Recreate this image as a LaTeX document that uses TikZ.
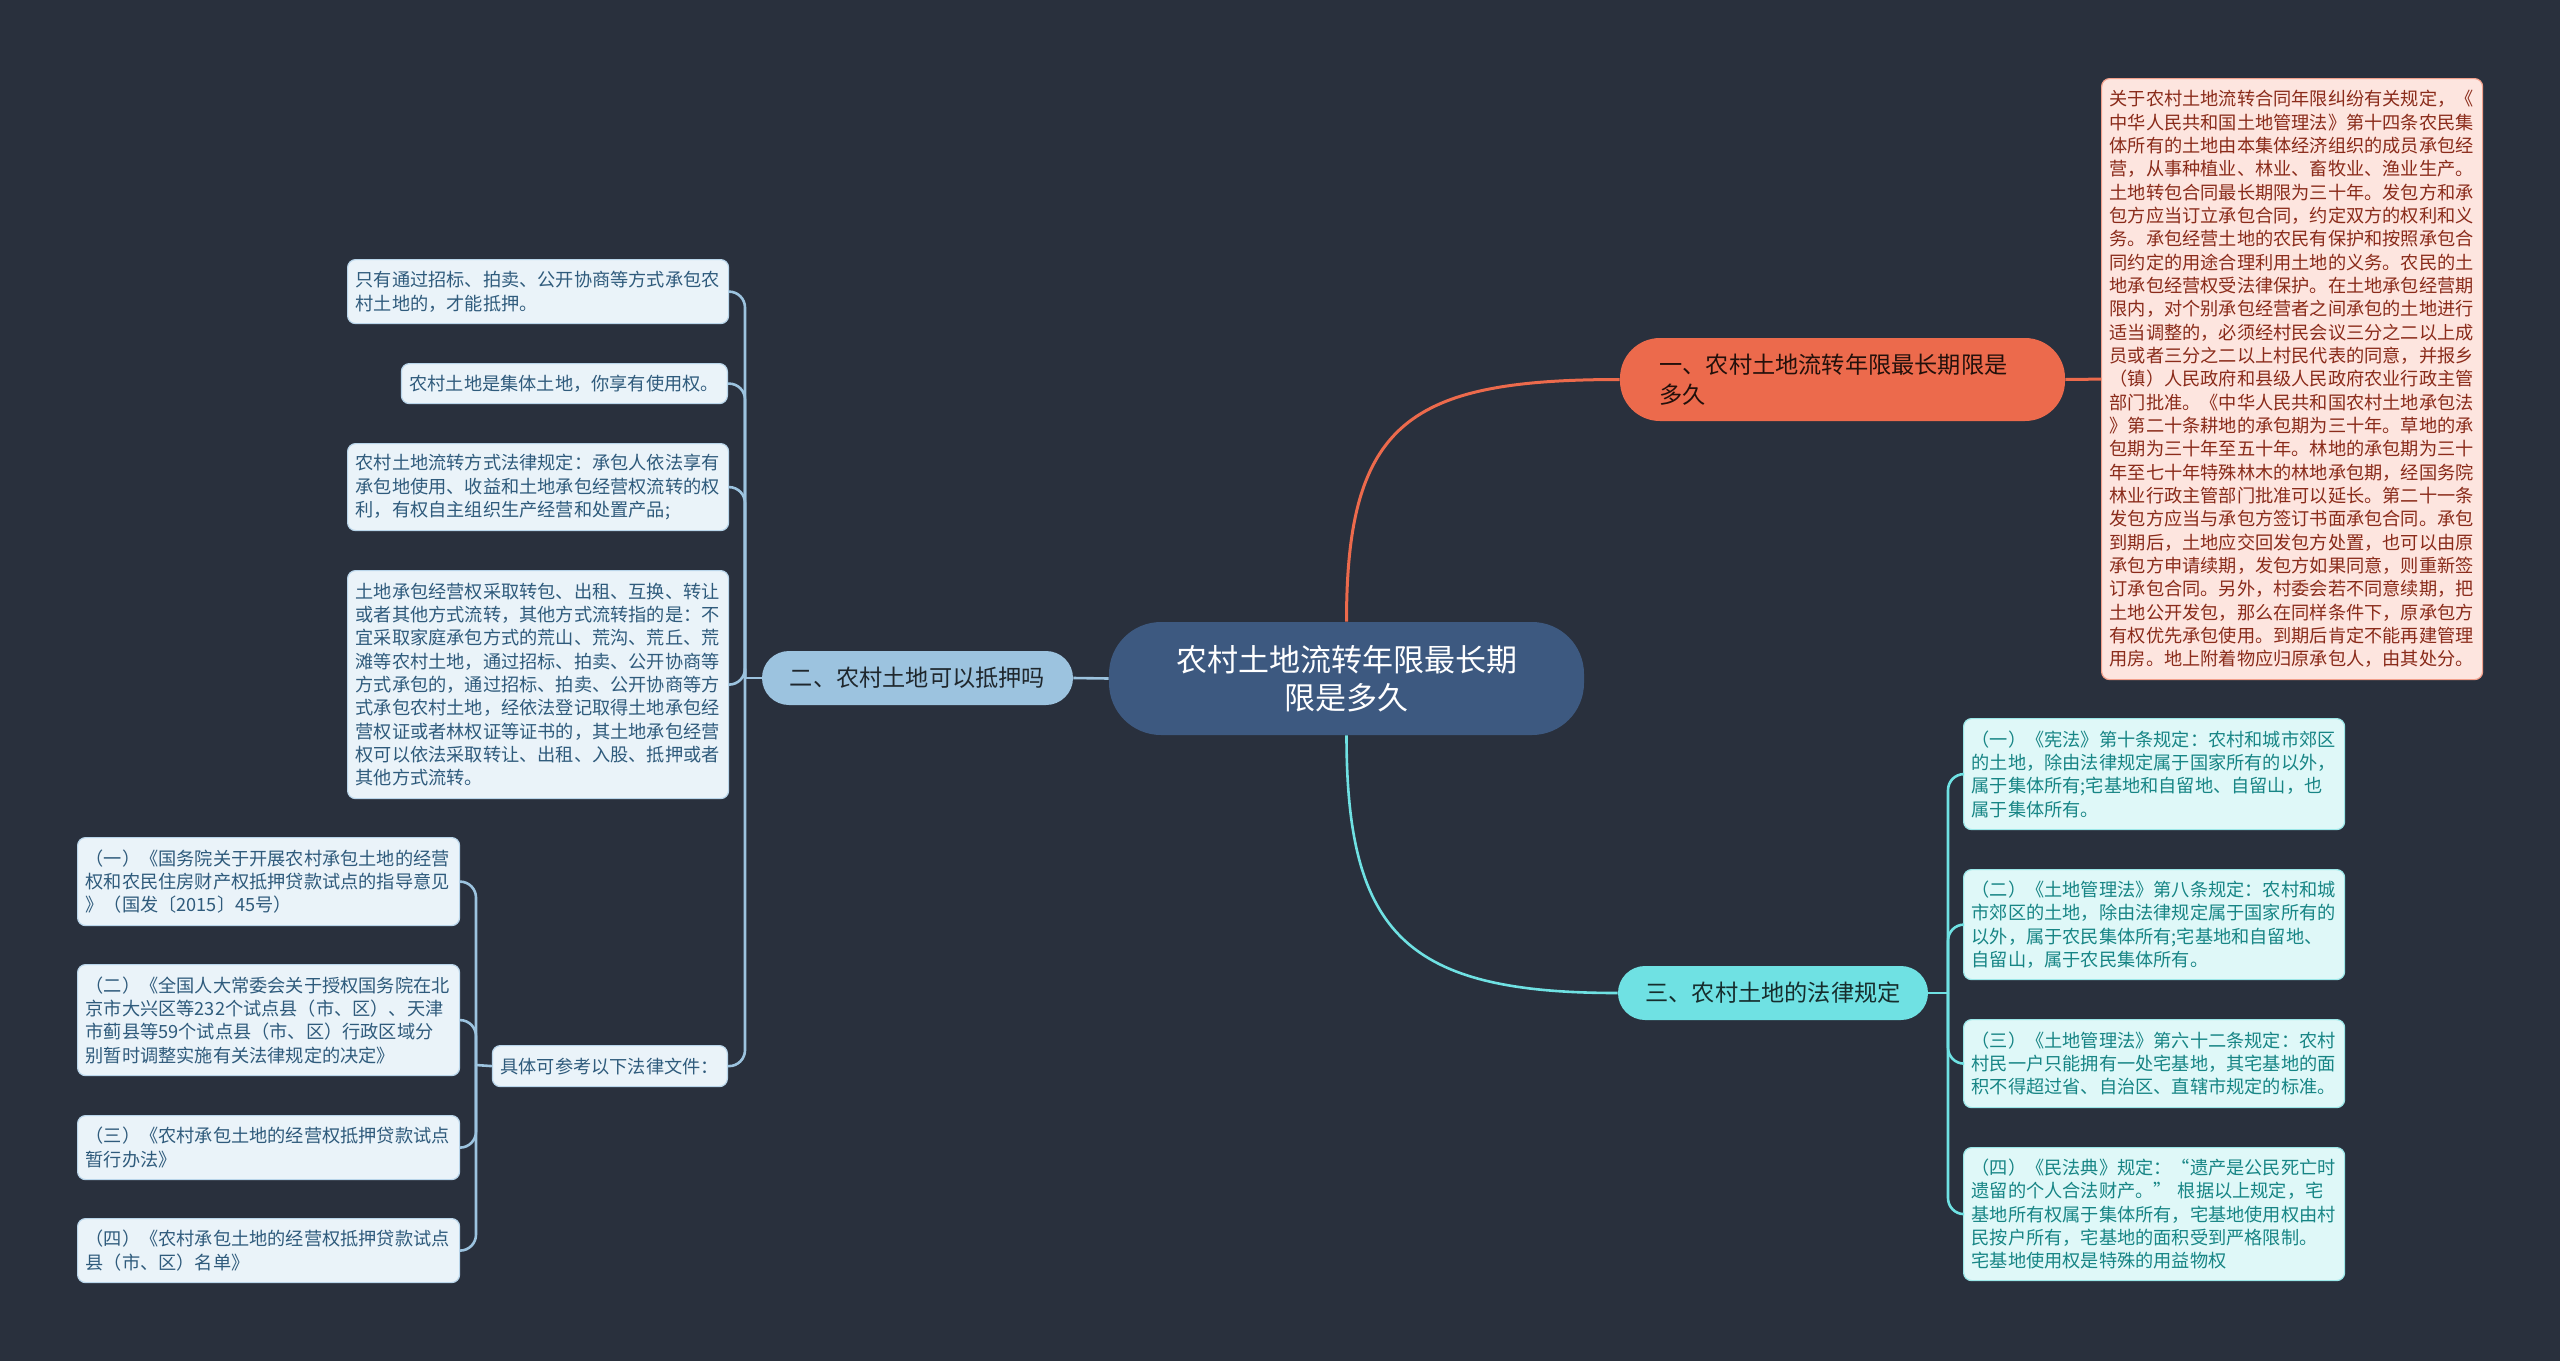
\documentclass[tikz,border=0pt]{standalone}
\usepackage{fontspec}
\newfontfamily\cjk{Noto Sans CJK SC}
\usetikzlibrary{calc}
\definecolor{bg}{HTML}{29303D}
\definecolor{cfill}{HTML}{3D5980}
\definecolor{ofill}{HTML}{EC6A4C}
\definecolor{bfill}{HTML}{9CC3DF}
\definecolor{tfill}{HTML}{6FE1E3}
\definecolor{lfill}{HTML}{EAF3F9}
\definecolor{ltext}{HTML}{2F5B7C}
\definecolor{lborder}{HTML}{B9D5EA}
\definecolor{rfill}{HTML}{DFF8F8}
\definecolor{rtext}{HTML}{178585}
\definecolor{rborder}{HTML}{9BE7E8}
\definecolor{pfill}{HTML}{FDE5DF}
\definecolor{ptext}{HTML}{8A2B1A}
\definecolor{pborder}{HTML}{F2A08C}
\begin{document}
\begin{tikzpicture}[x=0.5pt,y=-0.5pt,
  smallfont/.style={font=\cjk\fontsize{9.1pt}{11.67pt}\selectfont},
  basebox/.style={smallfont, rounded corners=4pt, inner xsep=4pt, inner ysep=0pt, align=left, line width=0.6pt},
  lbox/.style={basebox, fill=lfill, draw=lborder, text=ltext},
  rbox/.style={basebox, fill=rfill, draw=rborder, text=rtext},
  pbox/.style={basebox, fill=pfill, draw=pborder, text=ptext},
  topic/.style={font=\cjk\fontsize{11.6pt}{15pt}\selectfont, inner sep=0pt},
  lconn/.style={draw=bfill, line width=1.3pt},
  cconn/.style={draw=tfill, line width=1.3pt},
  oconn/.style={draw=ofill, line width=1.5pt}]
\fill[bg] (0,0) rectangle (2560,1361);
\useasboundingbox (0,0) rectangle (2560,1361);

% main nodes
\node[font=\cjk\fontsize{15.5pt}{19pt}\selectfont, inner sep=0pt, fill=cfill, text=white, rounded corners=26pt,
  minimum width=237.5pt, minimum height=56.5pt, align=center] (c) at (1346.5,678.5)
  {农村土地流转年限最长期\\限是多久};
\node[topic, fill=ofill, text=black!85!ofill, rounded corners=20pt, minimum width=222.5pt, minimum height=41.5pt,
  text width=183pt, align=left] (n1) at (1842.5,379.5)
  {一、农村土地流转年限最长期限是\\多久};
\node[topic, fill=bfill, text=black!80!bfill, rounded corners=13.5pt, minimum width=155.5pt, minimum height=27pt] (n2) at (917.5,678)
  {二、农村土地可以抵押吗};
\node[topic, fill=tfill, text=black!80!tfill, rounded corners=13.5pt, minimum width=155pt, minimum height=27pt] (n3) at (1773,993)
  {三、农村土地的法律规定};

% big right box
\node[pbox, anchor=north west, text width=182.5pt, minimum height=300.5pt] (big) at (2101,78)
{关于农村土地流转合同年限纠纷有关规定，《\\
中华人民共和国土地管理法》第十四条农民集\\
体所有的土地由本集体经济组织的成员承包经\\
营，从事种植业、林业、畜牧业、渔业生产。\\
土地转包合同最长期限为三十年。发包方和承\\
包方应当订立承包合同，约定双方的权利和义\\
务。承包经营土地的农民有保护和按照承包合\\
同约定的用途合理利用土地的义务。农民的土\\
地承包经营权受法律保护。在土地承包经营期\\
限内，对个别承包经营者之间承包的土地进行\\
适当调整的，必须经村民会议三分之二以上成\\
员或者三分之二以上村民代表的同意，并报乡\\
（镇）人民政府和县级人民政府农业行政主管\\
部门批准。《中华人民共和国农村土地承包法\\
》第二十条耕地的承包期为三十年。草地的承\\
包期为三十年至五十年。林地的承包期为三十\\
年至七十年特殊林木的林地承包期，经国务院\\
林业行政主管部门批准可以延长。第二十一条\\
发包方应当与承包方签订书面承包合同。承包\\
到期后，土地应交回发包方处置，也可以由原\\
承包方申请续期，发包方如果同意，则重新签\\
订承包合同。另外，村委会若不同意续期，把\\
土地公开发包，那么在同样条件下，原承包方\\
有权优先承包使用。到期后肯定不能再建管理\\
用房。地上附着物应归原承包人，由其处分。};

% left boxes (children of n2)
\node[lbox, anchor=north west, text width=182.5pt, minimum height=32pt] (l1) at (347,259)
{只有通过招标、拍卖、公开协商等方式承包农\\村土地的，才能抵押。};
\node[lbox, anchor=north east, text width=155pt, minimum height=20pt] (l2) at (728,363)
{农村土地是集体土地，你享有使用权。};
\node[lbox, anchor=north west, text width=182.5pt, minimum height=43.5pt] (l3) at (347,443)
{农村土地流转方式法律规定：承包人依法享有\\承包地使用、收益和土地承包经营权流转的权\\利，有权自主组织生产经营和处置产品;};
\node[lbox, anchor=north west, text width=182.5pt, minimum height=114pt] (l4) at (347,570)
{土地承包经营权采取转包、出租、互换、转让\\
或者其他方式流转，其他方式流转指的是：不\\
宜采取家庭承包方式的荒山、荒沟、荒丘、荒\\
滩等农村土地，通过招标、拍卖、公开协商等\\
方式承包的，通过招标、拍卖、公开协商等方\\
式承包农村土地，经依法登记取得土地承包经\\
营权证或者林权证等证书的，其土地承包经营\\
权可以依法采取转让、出租、入股、抵押或者\\
其他方式流转。};
\node[lbox, anchor=north east, text width=109.5pt, minimum height=20.5pt] (k) at (728,1045)
{具体可参考以下法律文件：};

% children of k
\node[lbox, anchor=north west, text width=183pt, minimum height=44pt] (b1) at (77,837)
{（一）《国务院关于开展农村承包土地的经营\\权和农民住房财产权抵押贷款试点的指导意见\\》（国发〔2015〕45号）};
\node[lbox, anchor=north west, text width=183pt, minimum height=55.5pt] (b2) at (77,964)
{（二）《全国人大常委会关于授权国务院在北\\京市大兴区等232个试点县（市、区）、天津\\市蓟县等59个试点县（市、区）行政区域分\\别暂时调整实施有关法律规定的决定》};
\node[lbox, anchor=north west, text width=183pt, minimum height=32pt] (b3) at (77,1115)
{（三）《农村承包土地的经营权抵押贷款试点\\暂行办法》};
\node[lbox, anchor=north west, text width=183pt, minimum height=32pt] (b4) at (77,1218)
{（四）《农村承包土地的经营权抵押贷款试点\\县（市、区）名单》};

% right children of n3
\node[rbox, anchor=north west, text width=182.5pt, minimum height=55.5pt] (r1) at (1963,718)
{（一）《宪法》第十条规定：农村和城市郊区\\的土地，除由法律规定属于国家所有的以外，\\属于集体所有;宅基地和自留地、自留山，也\\属于集体所有。};
\node[rbox, anchor=north west, text width=182.5pt, minimum height=55pt] (r2) at (1963,869)
{（二）《土地管理法》第八条规定：农村和城\\市郊区的土地，除由法律规定属于国家所有的\\以外，属于农民集体所有;宅基地和自留地、\\自留山，属于农民集体所有。};
\node[rbox, anchor=north west, text width=182.5pt, minimum height=44pt] (r3) at (1963,1019)
{（三）《土地管理法》第六十二条规定：农村\\村民一户只能拥有一处宅基地，其宅基地的面\\积不得超过省、自治区、直辖市规定的标准。};
\node[rbox, anchor=north west, text width=182.5pt, minimum height=66.5pt] (r4) at (1963,1147)
{（四）《民法典》规定：“遗产是公民死亡时\\遗留的个人合法财产。”~根据以上规定，宅\\基地所有权属于集体所有，宅基地使用权由村\\民按户所有，宅基地的面积受到严格限制。\\宅基地使用权是特殊的用益物权};

% connectors
\draw[oconn] (c.north) .. controls +(0,-200) and +(-210,0) .. (n1.west);
\draw[oconn] (n1.east) -- (big.west);
\draw[cconn] (c.south) .. controls +(0,200) and +(-210,0) .. (n3.west);
\draw[lconn] (c.west) -- (n2.east);

\coordinate (t2) at (745,678);
\draw[lconn] (n2.west) -- (t2);
\foreach \ch in {l1,l2,l3,l4,k}
  \draw[lconn, rounded corners=8pt] (t2) |- (\ch.east);

\coordinate (tk) at (476,1065);
\draw[lconn] (k.west) -- (tk);
\foreach \ch in {b1,b2,b3,b4}
  \draw[lconn, rounded corners=8pt] (tk) |- (\ch.east);

\coordinate (t3) at (1948,993);
\draw[cconn] (n3.east) -- (t3);
\foreach \ch in {r1,r2,r3,r4}
  \draw[cconn, rounded corners=8pt] (t3) |- (\ch.west);
\end{tikzpicture}
\end{document}
